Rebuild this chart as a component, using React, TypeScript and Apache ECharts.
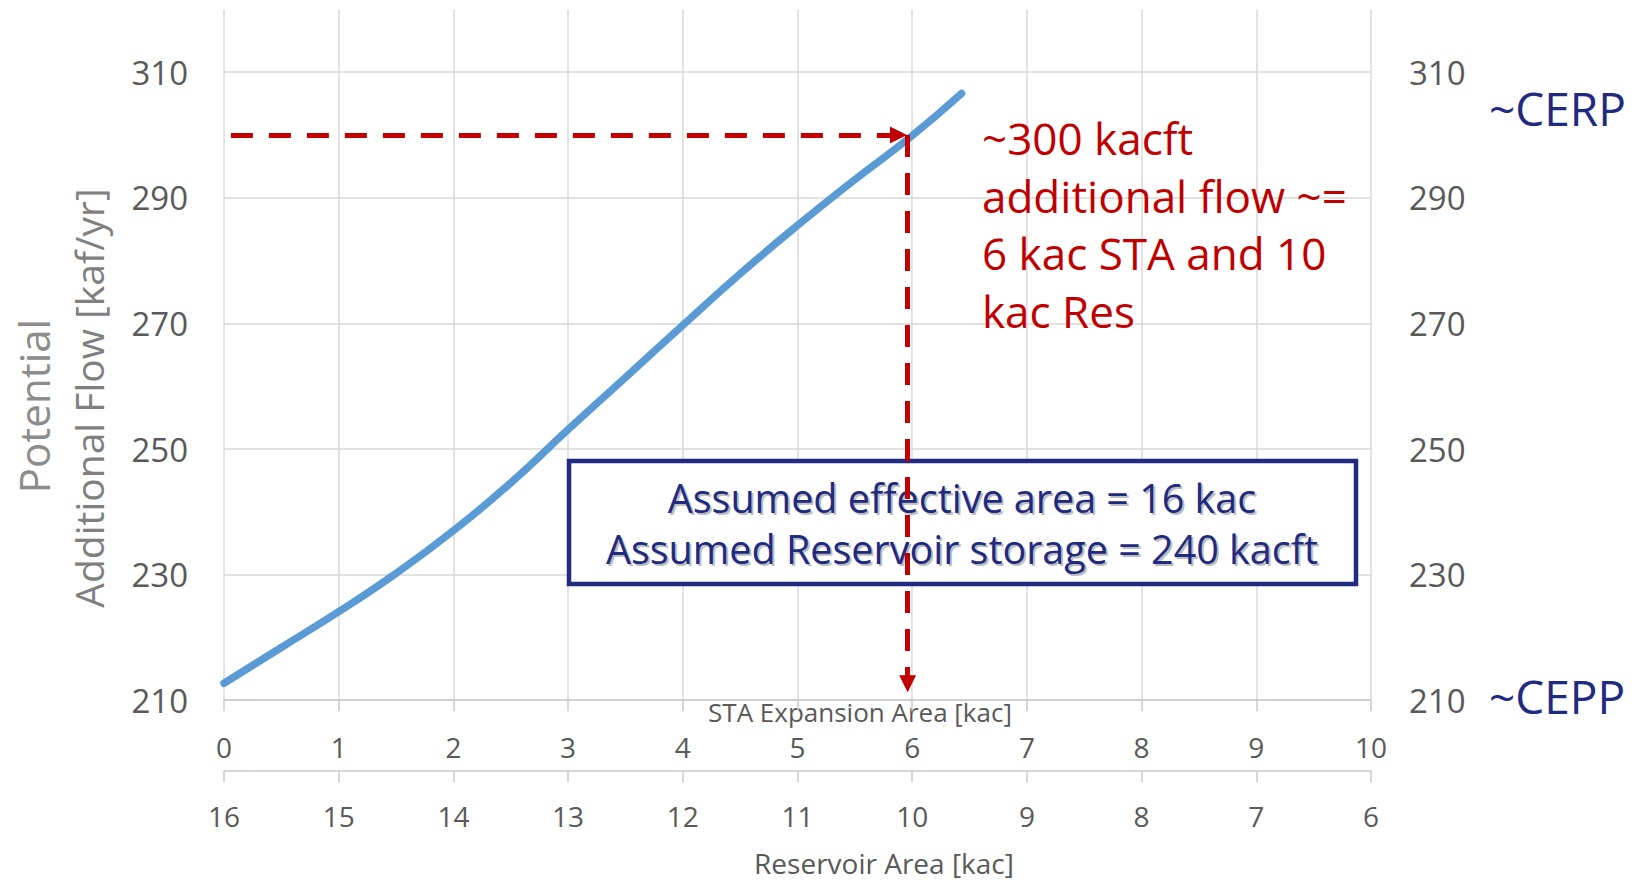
import React, { useEffect, useRef } from "react";
import * as echarts from "echarts";

// STA expansion area [kac] and potential additional flow [kaf/yr]
const staArea = [0, 0.5, 1, 1.5, 2, 2.5, 3, 3.5, 4, 4.5, 5, 5.5, 6, 6.43];
const additionalFlow = [212.7, 218.4, 224.1, 230.2, 237.0, 244.6, 253.1, 261.4, 269.7, 277.9, 285.6, 292.9, 299.9, 306.6];

// axis ranges
const staRange = [0, 10];
const reservoirRange = [6, 16];
const flowRange = [210, 320];
const flowTickLabels = [210, 230, 250, 270, 290, 310];

// annotation guide (target point)
const targetSta = 5.96;
const targetFlow = 300;
const guideStartSta = 0.06;
const hArrowEndSta = 5.88;
const vArrowEndFlow = 212.6;

const redLines = ["~300 kacft", "additional flow ~=", "6 kac STA and 10", "kac Res"];
const boxLines = ["Assumed effective area = 16 kac", "Assumed Reservoir storage = 240 kacft"];

const FONT = "'Open Sans', 'DejaVu Sans', sans-serif";
const GRAY = "#595959";
const NAVY = "#1f2a80";
const RED = "#c00000";

export default function App() {
  const ref = useRef<HTMLDivElement>(null);

  useEffect(() => {
    if (!ref.current) return;
    const chart = echarts.init(ref.current, undefined, { renderer: "svg" });

    const yLabel = (v: number) => (flowTickLabels.indexOf(Math.round(v)) >= 0 ? String(Math.round(v)) : "");

    const redTexts = redLines.map((t, i) => ({
      type: "text",
      x: 982,
      y: 138 + i * 57.5,
      z: 10,
      style: { text: t, fill: RED, font: `44px ${FONT}`, textAlign: "left", textVerticalAlign: "middle" },
    }));

    const boxTexts: any[] = [];
    boxLines.forEach((t, i) => {
      boxTexts.push({
        type: "text",
        x: 964,
        y: 500 + i * 51,
        z: 1,
        style: { text: t, fill: "#bdbdbd", font: `39.5px ${FONT}`, textAlign: "center", textVerticalAlign: "middle" },
      });
      boxTexts.push({
        type: "text",
        x: 962,
        y: 498 + i * 51,
        z: 1,
        style: { text: t, fill: NAVY, font: `39.5px ${FONT}`, textAlign: "center", textVerticalAlign: "middle" },
      });
    });

    const option: any = {
      animation: false,
      backgroundColor: "#ffffff",
      grid: { left: 224, right: 270, top: 9.4, bottom: 182.8, containLabel: false },
      xAxis: [
        {
          type: "value",
          position: "bottom",
          min: staRange[0],
          max: staRange[1],
          interval: 1,
          axisLine: { show: true, lineStyle: { color: "#c8c8c8", width: 1.5 } },
          axisTick: { show: true, inside: false, length: 11, lineStyle: { color: "#c8c8c8", width: 1.5 } },
          axisLabel: { margin: 33, color: GRAY, fontSize: 28, fontFamily: FONT },
          splitLine: { show: true, lineStyle: { color: "#d9d9d9", width: 1.5 } },
        },
        {
          type: "value",
          position: "bottom",
          offset: 71,
          min: reservoirRange[0],
          max: reservoirRange[1],
          interval: 1,
          inverse: true,
          axisLine: { show: true, onZero: false, lineStyle: { color: "#c8c8c8", width: 1.5 } },
          axisTick: { show: true, inside: false, length: 11, lineStyle: { color: "#c8c8c8", width: 1.5 } },
          axisLabel: { margin: 31, color: GRAY, fontSize: 28, fontFamily: FONT },
          splitLine: { show: false },
        },
      ],
      yAxis: [
        {
          type: "value",
          position: "left",
          min: flowRange[0],
          max: flowRange[1],
          interval: 10,
          axisLine: { show: false },
          axisTick: { show: false },
          axisLabel: { margin: 36, color: GRAY, fontSize: 33, fontFamily: FONT, formatter: yLabel },
          splitLine: { show: true, lineStyle: { color: ["#d9d9d9", "rgba(0,0,0,0)"], width: 1.5 } },
        },
        {
          type: "value",
          position: "right",
          min: flowRange[0],
          max: flowRange[1],
          interval: 10,
          axisLine: { show: false },
          axisTick: { show: false },
          axisLabel: { margin: 38, color: GRAY, fontSize: 33, fontFamily: FONT, formatter: yLabel },
          splitLine: { show: false },
        },
      ],
      series: [
        {
          type: "line",
          xAxisIndex: 0,
          yAxisIndex: 0,
          data: staArea.map((x, i) => [x, additionalFlow[i]]),
          smooth: true,
          symbol: "none",
          z: 3,
          lineStyle: { color: "#5b9bd5", width: 7.5, cap: "round" },
          markLine: {
            silent: true,
            z: 5,
            symbol: ["none", "triangle"],
            symbolSize: [17, 17],
            label: { show: false },
            lineStyle: { color: RED, width: 5, type: [22, 16] },
            emphasis: { disabled: true },
            data: [
              [{ coord: [guideStartSta, targetFlow] }, { coord: [hArrowEndSta, targetFlow] }],
              [{ coord: [targetSta, targetFlow] }, { coord: [targetSta, vArrowEndFlow] }],
            ],
          },
        },
      ],
      graphic: [
        {
          type: "rect",
          z: 1,
          shape: { x: 569, y: 461, width: 787, height: 123 },
          style: { fill: "#ffffff", stroke: NAVY, lineWidth: 4.5 },
        },
        ...boxTexts,
        ...redTexts,
        {
          type: "text",
          x: 33,
          y: 406,
          rotation: Math.PI / 2,
          style: { text: "Potential", fill: "#8c8c8c", font: `42px ${FONT}`, textAlign: "center", textVerticalAlign: "middle" },
        },
        {
          type: "text",
          x: 88,
          y: 398,
          rotation: Math.PI / 2,
          style: { text: "Additional Flow [kaf/yr]", fill: "#7f7f7f", font: `39px ${FONT}`, textAlign: "center", textVerticalAlign: "middle" },
        },
        {
          type: "text",
          x: 860,
          y: 712,
          style: { text: "STA Expansion Area [kac]", fill: GRAY, font: `26px ${FONT}`, textAlign: "center", textVerticalAlign: "middle" },
        },
        {
          type: "text",
          x: 884,
          y: 863,
          style: { text: "Reservoir Area [kac]", fill: GRAY, font: `28px ${FONT}`, textAlign: "center", textVerticalAlign: "middle" },
        },
        {
          type: "text",
          x: 1489,
          y: 108,
          style: { text: "~CERP", fill: NAVY, font: `46px ${FONT}`, textAlign: "left", textVerticalAlign: "middle" },
        },
        {
          type: "text",
          x: 1489,
          y: 696,
          style: { text: "~CEPP", fill: NAVY, font: `46px ${FONT}`, textAlign: "left", textVerticalAlign: "middle" },
        },
      ],
    };

    chart.setOption(option);
    return () => chart.dispose();
  }, []);

  return (
    <div
      ref={ref}
      style={{ position: "fixed", left: 0, top: 0, width: 1641, height: 883, background: "#fff" }}
    />
  );
}
